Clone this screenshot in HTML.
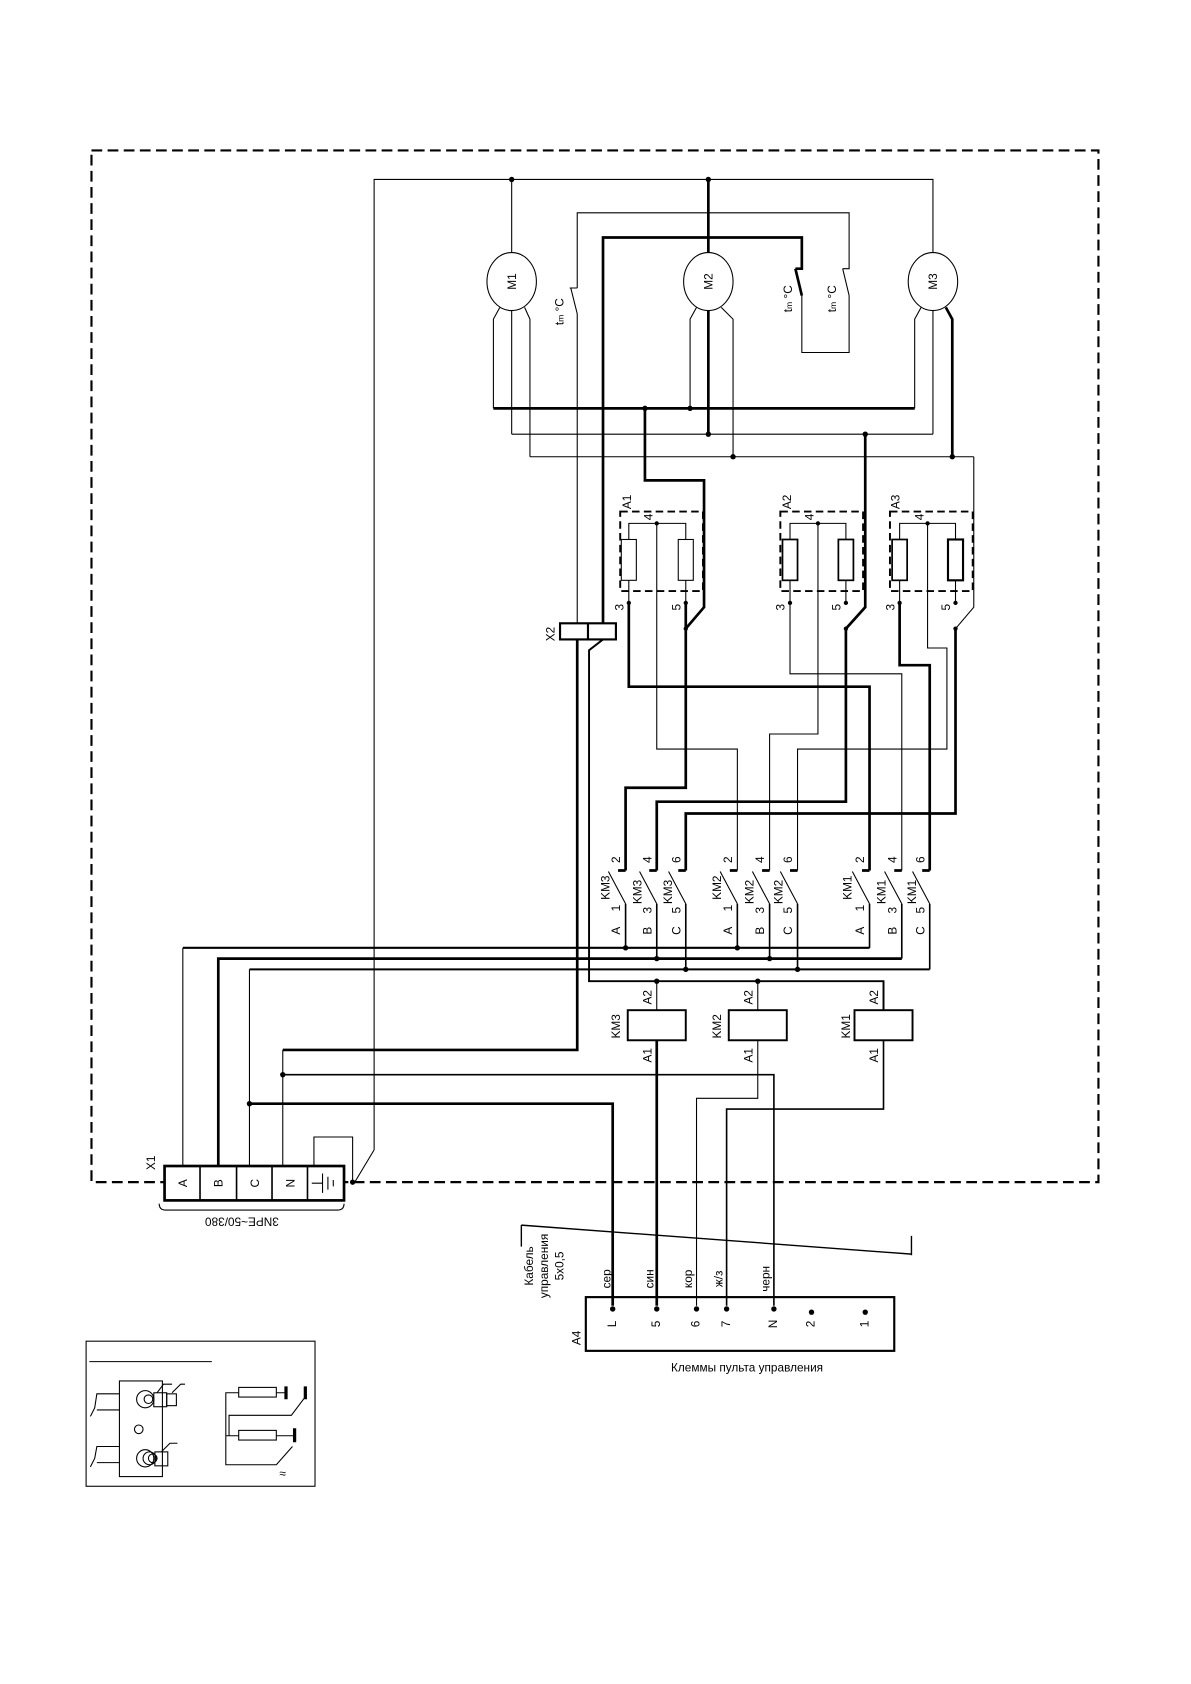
<!DOCTYPE html>
<html><head><meta charset="utf-8"><style>
html,body{margin:0;padding:0;background:#fff}
svg{display:block}
text{font-family:"Liberation Sans",sans-serif;font-size:11px;fill:#000}
</style></head><body>
<svg width="1191" height="1684" viewBox="0 0 1108 1567" xmlns="http://www.w3.org/2000/svg">
<g fill="none" stroke="#000" stroke-width="1">
<rect x="85" y="140" width="937" height="960" stroke-width="2" stroke-dasharray="10,5"/>
<path d="M348,1070 V167 H868 V235"/>
<path d="M476,167 V235"/>
<path d="M659,167 V235" stroke-width="2.5"/>
<ellipse cx="476" cy="262" rx="23" ry="27"/>
<ellipse cx="659" cy="262" rx="23" ry="27"/>
<ellipse cx="868" cy="262" rx="23" ry="27"/>
<path d="M465,286 L459,297 V380 M476,289 V404 M488,286 L493,297 V425"/>
<path d="M648,286 L642,297 V380 M671,286 L682,297 V425"/>
<path d="M659,289 V404" stroke-width="2.5"/>
<path d="M857,286 L851,297 V380 M868,289 V404"/>
<path d="M880,286 L886,297 V425" stroke-width="2.5"/>
<path d="M459,380 H851" stroke-width="2.5"/>
<path d="M476,404 H868"/>
<path d="M493,425 H906"/>
<path d="M600,380 V447 H655 V565 L638,585" stroke-width="2.5"/>
<path d="M805,404 V565 L787,585" stroke-width="2.5"/>
<path d="M906,425 V565 L889,585"/>
<path d="M537,580 V292 M537,292 L531,268 M537,268 H530 M537,268 V198 H790 V250 H784 M784,250 L790,275 M790,275 V328 H746 V275"/>
<path d="M561,580 V221 H746 V250 H740 M740,250 L746,275" stroke-width="2.5"/>
<rect x="521" y="580" width="52" height="15" stroke-width="2"/>
<path d="M547,580 V595" stroke-width="2"/>
<path d="M537,595 V977 H263" stroke-width="2.5"/>
<path d="M561,595 L548,605 V913 H822 V940" stroke-width="1.8"/>
<rect x="577" y="476" width="77" height="74" stroke-width="1.8" stroke-dasharray="7,4"/>
<rect x="726" y="476" width="77" height="74" stroke-width="1.8" stroke-dasharray="7,4"/>
<rect x="828" y="476" width="77" height="74" stroke-width="1.8" stroke-dasharray="7,4"/>
<path d="M585,561 V487 H638 V561 M611,487 V697 H686 V810"/>
<rect x="578" y="502" width="14" height="38" fill="#fff"/>
<rect x="631" y="502" width="14" height="38" fill="#fff"/>
<path d="M735,561 V487 H787 V561 M761,487 V683 H716 V810"/>
<rect x="728" y="502" width="14" height="38" fill="#fff" stroke-width="1.6"/>
<rect x="780" y="502" width="14" height="38" fill="#fff" stroke-width="1.6"/>
<path d="M837,561 V487 H889 V561 M863,487 V603 H881 V697 H742 V810"/>
<rect x="830" y="502" width="14" height="38" fill="#fff" stroke-width="1.6"/>
<rect x="882" y="502" width="14" height="38" fill="#fff" stroke-width="2"/>
<path d="M585,561 V639 H809 V810" stroke-width="2.5"/>
<path d="M638,561 V733 H582 V810" stroke-width="2.5"/>
<path d="M735,561 V627 H839 V810"/>
<path d="M787,585 V746 H611 V810" stroke-width="2.5"/>
<path d="M837,561 V619 H865 V810" stroke-width="2.5"/>
<path d="M889,585 V757 H638 V810" stroke-width="2.5"/>
<path d="M575,810 H582 M604,810 H611 M631,810 H638 M679,810 H686 M709,810 H716 M735,810 H742 M802,810 H809 M832,810 H839 M858,810 H865" stroke-width="2.5"/>
<path d="M566,811 L582,841 M595,811 L611,841 M622,811 L638,841 M670,811 L686,841 M700,811 L716,841 M726,811 L742,841 M793,811 L809,841 M823,811 L839,841 M849,811 L865,841"/>
<path d="M582,841 V882 M611,841 V892 M638,841 V902 M686,841 V882 M716,841 V892 M742,841 V902 M809,841 V882 M839,841 V892 M865,841 V902" stroke-width="1.5"/>
<path d="M170,1085 V882"/><path d="M170,882 H809" stroke-width="2"/>
<path d="M203,1085 V892 H839" stroke-width="2.5"/>
<path d="M232,1085 V902"/><path d="M232,902 H865" stroke-width="1.8"/>
<rect x="584" y="940" width="54" height="28" stroke-width="1.8"/>
<rect x="678" y="940" width="54" height="28" stroke-width="1.8"/>
<rect x="795" y="940" width="54" height="28" stroke-width="1.8"/>
<path d="M611,913 V940 M705,913 V940"/>
<path d="M611,968 V1215" stroke-width="2.5"/>
<path d="M705,968 V1022 H648 V1215"/>
<path d="M822,968 V1032 H676 V1215" stroke-width="1.5"/>
<path d="M263,1085 V977"/>
<path d="M263,1000 H720 V1215" stroke-width="1.5"/>
<path d="M232,1027 H570 V1215" stroke-width="2.5"/>
<rect x="153" y="1085" width="167" height="32" stroke-width="2.5" fill="#fff"/>
<path d="M186,1085 V1117 M220,1085 V1117 M253,1085 V1117 M286,1085 V1117" stroke-width="1.5"/>
<path d="M292,1085 V1058 H328 V1100"/>
<path d="M290,1101 H300 M300,1092 V1110 M305,1095 V1107 M310,1098 V1104"/>
<path d="M348,1070 L330,1100"/>
<path d="M148,1120 Q148,1126 154,1126 H314 Q320,1126 320,1120"/>
<path d="M485,1140 L848,1167 M485,1140 V1160 M848,1150 V1168" stroke-width="1.3"/>
<rect x="545" y="1207" width="287" height="50" stroke-width="2"/>
<rect x="80" y="1248" width="213" height="135"/>
<path d="M83,1267 H197"/>
<rect x="111" y="1285" width="40" height="89"/>
<path d="M111,1297 H90 L88,1310 L84,1318 M111,1312 H90 M111,1346 H90 L88,1357 L84,1365 M111,1361 H90"/>
<circle cx="135" cy="1302" r="8"/><circle cx="138" cy="1302" r="4"/>
<rect x="143" y="1296" width="12" height="13"/><rect x="155" y="1297" width="9" height="11"/>
<path d="M146,1296 L152,1288 H160 M160,1296 L168,1288 H172"/>
<circle cx="129" cy="1330" r="4"/>
<circle cx="135" cy="1357" r="8"/><circle cx="139" cy="1357" r="6"/><circle cx="142" cy="1357" r="4"/>
<rect x="144" y="1351" width="12" height="13"/>
<path d="M150,1351 L158,1343 H165"/>
<rect x="222" y="1291" width="35" height="9"/>
<rect x="222" y="1331" width="35" height="9"/>
<path d="M222,1296 H210 V1363 H257 L272,1346 M222,1336 H210 M213,1336 V1317 H271 L283,1301"/>
<path d="M257,1296 H265 M257,1336 H274" />
<path d="M266,1290 V1302 M284,1290 V1302 M274,1329 V1342" stroke-width="3"/>
</g>
<g fill="#000">
<circle cx="476" cy="167" r="2.5"/><circle cx="659" cy="167" r="2.5"/>
<circle cx="642" cy="380" r="2.5"/><circle cx="600" cy="380" r="2.5"/>
<circle cx="659" cy="404" r="2.5"/><circle cx="805" cy="404" r="2.5"/>
<circle cx="682" cy="425" r="2.5"/><circle cx="886" cy="425" r="2.5"/>
<circle cx="611" cy="487" r="2"/><circle cx="761" cy="487" r="2"/><circle cx="863" cy="487" r="2"/>
<circle cx="585" cy="561" r="2"/><circle cx="638" cy="561" r="2"/>
<circle cx="735" cy="561" r="2"/><circle cx="787" cy="561" r="2"/>
<circle cx="837" cy="561" r="2"/><circle cx="889" cy="561" r="2"/>
<circle cx="638" cy="585" r="2"/><circle cx="787" cy="585" r="2"/><circle cx="889" cy="585" r="2"/>
<circle cx="582" cy="882" r="2.5"/><circle cx="686" cy="882" r="2.5"/>
<circle cx="611" cy="892" r="2.5"/><circle cx="716" cy="892" r="2.5"/>
<circle cx="638" cy="902" r="2.5"/><circle cx="742" cy="902" r="2.5"/>
<circle cx="611" cy="913" r="2.5"/><circle cx="705" cy="913" r="2.5"/>
<circle cx="263" cy="1000" r="2.5"/><circle cx="232" cy="1027" r="2.5"/>
<circle cx="328" cy="1100" r="2.5"/>
<circle cx="570" cy="1218" r="2.5"/><circle cx="611" cy="1218" r="2.5"/><circle cx="648" cy="1218" r="2.5"/>
<circle cx="676" cy="1218" r="2.5"/><circle cx="720" cy="1218" r="2.5"/><circle cx="755" cy="1221" r="2.5"/><circle cx="805" cy="1221" r="2.5"/>
</g>
<g text-anchor="middle">
<text transform="translate(480,262) rotate(-90)">M1</text>
<text transform="translate(663,262) rotate(-90)">M2</text>
<text transform="translate(872,262) rotate(-90)">M3</text>
<text transform="translate(524,290) rotate(-90)" font-size="12">t<tspan font-size="8">m</tspan> °C</text>
<text transform="translate(737,278) rotate(-90)" font-size="12">t<tspan font-size="8">m</tspan> °C</text>
<text transform="translate(778,278) rotate(-90)" font-size="12">t<tspan font-size="8">m</tspan> °C</text>
<text transform="translate(516,590) rotate(-90)">X2</text>
<text transform="translate(587,467) rotate(-90)">A1</text>
<text transform="translate(736,467) rotate(-90)">A2</text>
<text transform="translate(837,467) rotate(-90)">A3</text>
<text transform="translate(607,481) rotate(-90)">4</text>
<text transform="translate(757,481) rotate(-90)">4</text>
<text transform="translate(859,481) rotate(-90)">4</text>
<text transform="translate(580,565) rotate(-90)">3</text><text transform="translate(633,565) rotate(-90)">5</text>
<text transform="translate(730,565) rotate(-90)">3</text><text transform="translate(782,565) rotate(-90)">5</text>
<text transform="translate(832,565) rotate(-90)">3</text><text transform="translate(884,565) rotate(-90)">5</text>
<text transform="translate(577,800) rotate(-90)">2</text><text transform="translate(606,800) rotate(-90)">4</text><text transform="translate(633,800) rotate(-90)">6</text>
<text transform="translate(681,800) rotate(-90)">2</text><text transform="translate(711,800) rotate(-90)">4</text><text transform="translate(737,800) rotate(-90)">6</text>
<text transform="translate(804,800) rotate(-90)">2</text><text transform="translate(834,800) rotate(-90)">4</text><text transform="translate(860,800) rotate(-90)">6</text>
<text transform="translate(567,826) rotate(-90)">KM3</text><text transform="translate(597,830) rotate(-90)">KM3</text><text transform="translate(625,830) rotate(-90)">KM3</text>
<text transform="translate(671,826) rotate(-90)">KM2</text><text transform="translate(701,830) rotate(-90)">KM2</text><text transform="translate(728,830) rotate(-90)">KM2</text>
<text transform="translate(792,826) rotate(-90)">KM1</text><text transform="translate(824,830) rotate(-90)">KM1</text><text transform="translate(852,830) rotate(-90)">KM1</text>
<text transform="translate(577,845) rotate(-90)">1</text><text transform="translate(606,847) rotate(-90)">3</text><text transform="translate(633,847) rotate(-90)">5</text>
<text transform="translate(681,845) rotate(-90)">1</text><text transform="translate(711,847) rotate(-90)">3</text><text transform="translate(737,847) rotate(-90)">5</text>
<text transform="translate(804,845) rotate(-90)">1</text><text transform="translate(834,847) rotate(-90)">3</text><text transform="translate(860,847) rotate(-90)">5</text>
<text transform="translate(577,866) rotate(-90)" font-size="12">A</text><text transform="translate(606,866) rotate(-90)" font-size="12">B</text><text transform="translate(633,866) rotate(-90)" font-size="12">C</text>
<text transform="translate(681,866) rotate(-90)" font-size="12">A</text><text transform="translate(711,866) rotate(-90)" font-size="12">B</text><text transform="translate(737,866) rotate(-90)" font-size="12">C</text>
<text transform="translate(804,866) rotate(-90)" font-size="12">A</text><text transform="translate(834,866) rotate(-90)" font-size="12">B</text><text transform="translate(860,866) rotate(-90)" font-size="12">C</text>
<text transform="translate(606,928) rotate(-90)">A2</text><text transform="translate(700,928) rotate(-90)">A2</text><text transform="translate(817,928) rotate(-90)">A2</text>
<text transform="translate(577,955) rotate(-90)">KM3</text><text transform="translate(671,955) rotate(-90)">KM2</text><text transform="translate(791,955) rotate(-90)">KM1</text>
<text transform="translate(606,982) rotate(-90)">A1</text><text transform="translate(700,982) rotate(-90)">A1</text><text transform="translate(817,982) rotate(-90)">A1</text>
<text transform="translate(144,1082) rotate(-90)">X1</text>
<text transform="translate(174,1101) rotate(-90)" font-size="12">A</text>
<text transform="translate(207,1101) rotate(-90)" font-size="12">B</text>
<text transform="translate(241,1101) rotate(-90)" font-size="12">C</text>
<text transform="translate(274,1101) rotate(-90)" font-size="12">N</text>
<text transform="translate(225,1133) rotate(180)">3NPE~50/380</text>
<text transform="translate(496,1178) rotate(-90)">Кабель</text>
<text transform="translate(510,1178) rotate(-90)">управления</text>
<text transform="translate(524,1178) rotate(-90)">5x0,5</text>
<text transform="translate(568,1190) rotate(-90)">сер</text>
<text transform="translate(608,1190) rotate(-90)">син</text>
<text transform="translate(644,1190) rotate(-90)">кор</text>
<text transform="translate(672,1190) rotate(-90)">ж/з</text>
<text transform="translate(716,1190) rotate(-90)">черн</text>
<text transform="translate(540,1245) rotate(-90)">A4</text>
<text transform="translate(573,1232) rotate(-90)">L</text>
<text transform="translate(614,1232) rotate(-90)">5</text>
<text transform="translate(651,1232) rotate(-90)">6</text>
<text transform="translate(679,1232) rotate(-90)">7</text>
<text transform="translate(723,1232) rotate(-90)">N</text>
<text transform="translate(758,1232) rotate(-90)">2</text>
<text transform="translate(808,1232) rotate(-90)">1</text>
<text x="695" y="1276" font-size="12">Клеммы пульта управления</text>
<text x="263" y="1375" font-size="8">≈</text>
</g>
</svg>
</body></html>
